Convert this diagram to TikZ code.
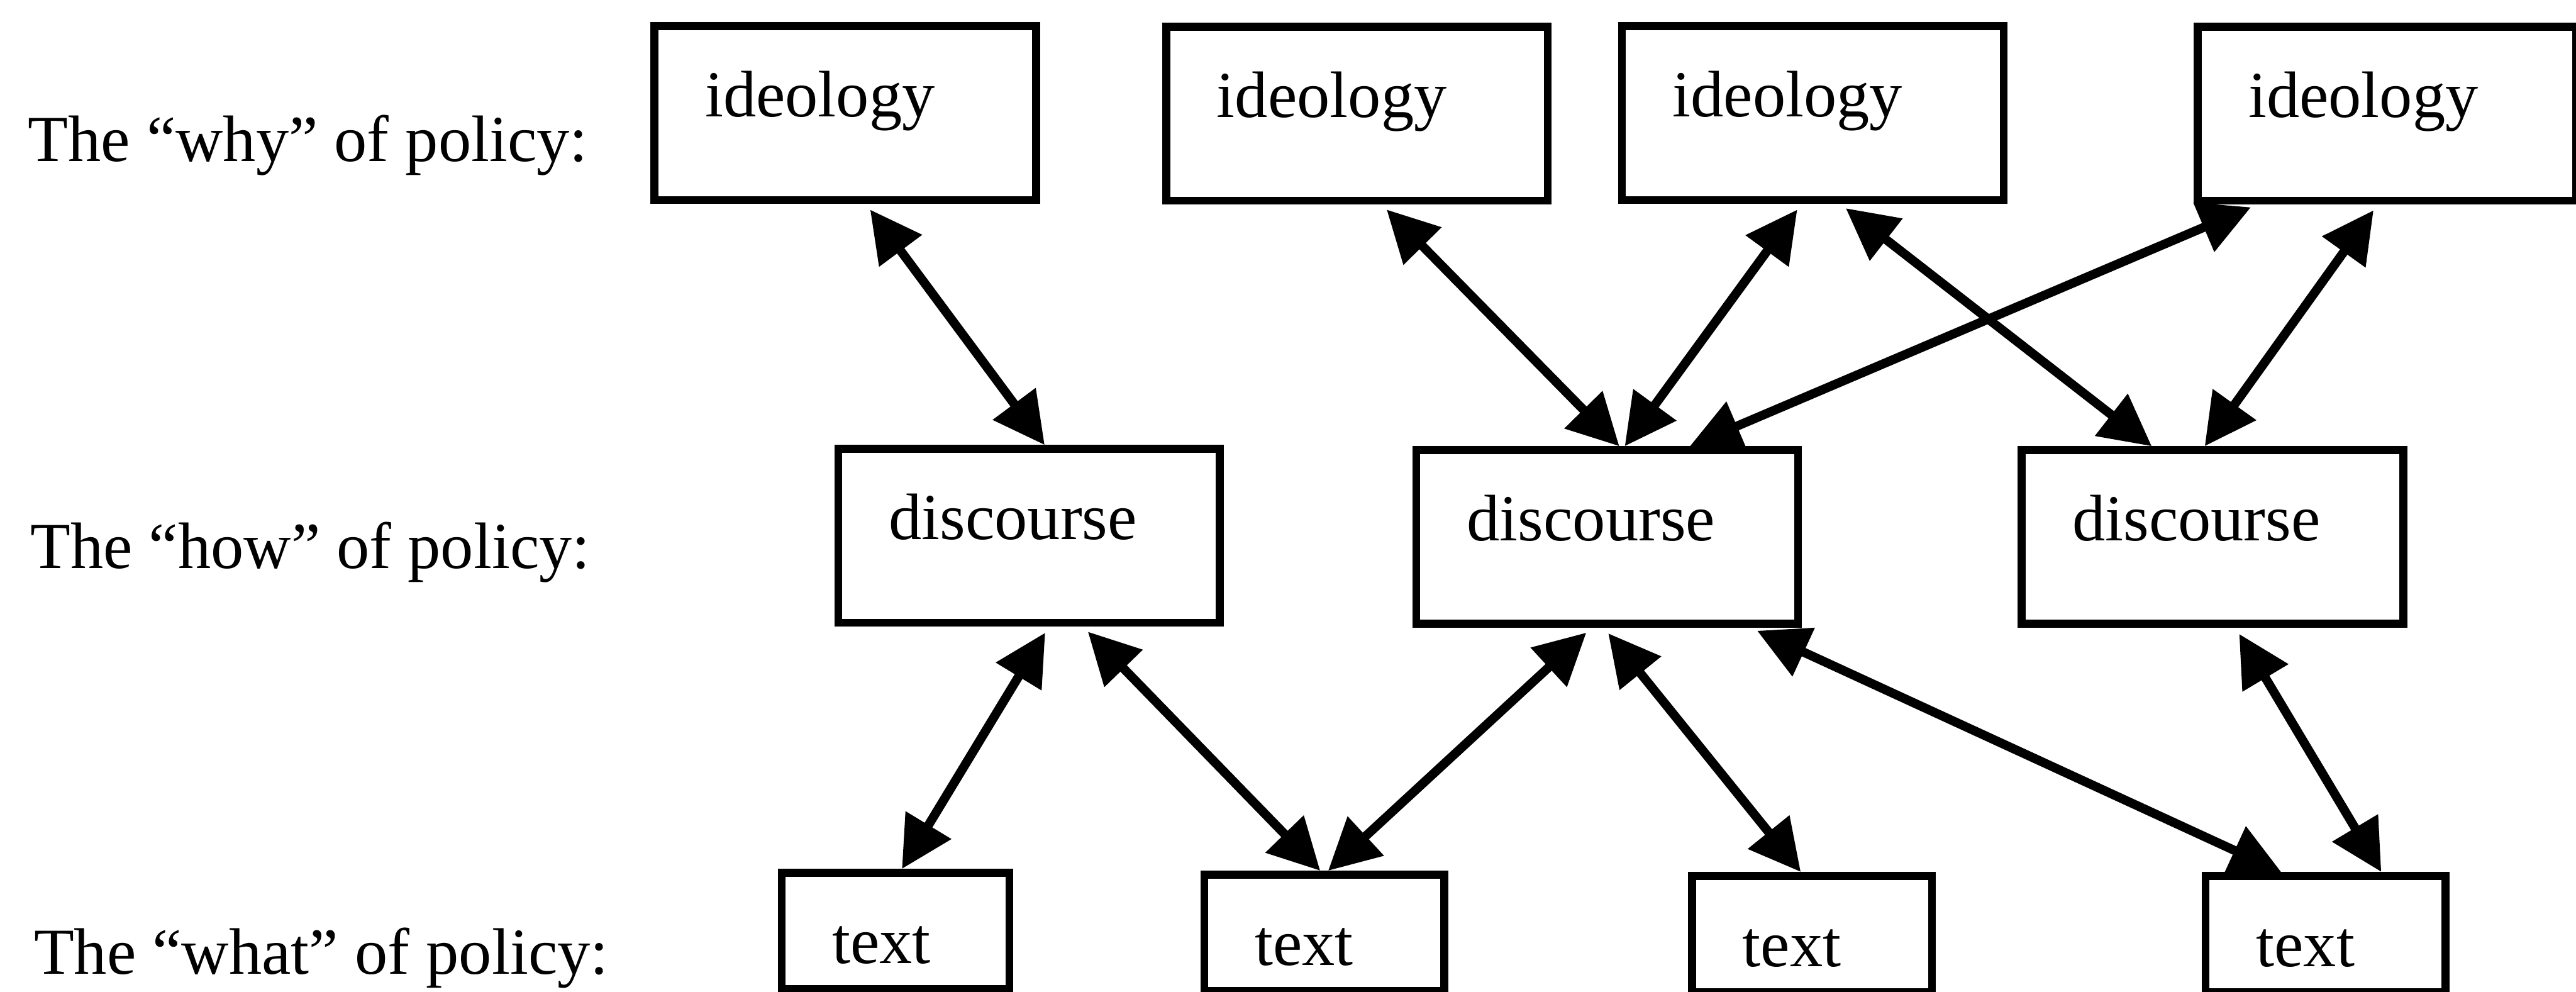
\documentclass[tikz,border=0pt]{standalone}
\usepackage{fontspec}
\setmainfont{Liberation Serif}
\usetikzlibrary{arrows.meta,calc}

\tikzset{
  box/.style={draw, line width=1.3mm, anchor=north west, align=left,
    inner xsep=0.84cm, inner ysep=0pt, text height=1.5cm},
  upper/.style={box, text width=4.65cm, text depth=1.38cm},
  lower/.style={box, text width=2.3cm, text depth=0.43cm},
  link/.style={line width=1.5mm,
    {Triangle[length=0.85cm,width=0.85cm]}-{Triangle[length=0.85cm,width=0.85cm]},
    shorten <=0.12cm},
}

\begin{document}
\begin{tikzpicture}[font=\fontsize{31}{36}\selectfont]
\useasboundingbox (0,0) rectangle (42.73,-16.45);

\node[anchor=base west] (why) at (0.34,-2.68) {The “why” of policy:};
\node[anchor=base west] (how) at (0.38,-9.43) {The “how” of policy:};
\node[anchor=base west] (what) at (0.44,-16.15) {The “what” of policy:};

\node[upper] (i1) at (10.79,-0.37) {ideology};
\node[upper] (i2) at (19.28,-0.38) {ideology};
\node[upper] (i3) at (26.84,-0.37) {ideology};
\node[upper, text width=4.6cm] (i4) at (36.39,-0.38) {ideology};

\node[upper] (d1) at (13.84,-7.38) {discourse};
\node[upper] (d2) at (23.43,-7.40) {discourse};
\node[upper] (d3) at (33.47,-7.40) {discourse};

\node[lower, text width=2.1cm] (t1) at (12.90,-14.41) {text};
\node[lower] (t2) at (19.91,-14.44) {text};
\node[lower] (t3) at (28.00,-14.46) {text};
\node[lower] (t4) at (36.52,-14.46) {text};

\draw[link] ($(i1.south west)!0.553!(i1.south east)$) -- ($(d1.north west)!0.540!(d1.north east)$);
\draw[link] ($(i2.south west)!0.563!(i2.south east)$) -- ($(d2.north west)!0.531!(d2.north east)$);
\draw[link] ($(i3.south west)!0.471!(i3.south east)$) -- ($(d2.north west)!0.545!(d2.north east)$);
\draw[link] ($(i3.south west)!0.570!(i3.south east)$) -- ($(d3.north west)!0.344!(d3.north east)$);
\draw[link] ($(i4.south west)!0.165!(i4.south east)$) -- ($(d2.north west)!0.712!(d2.north east)$);
\draw[link] ($(i4.south west)!0.476!(i4.south east)$) -- ($(d3.north west)!0.480!(d3.north east)$);

\draw[link] ($(d1.south west)!0.551!(d1.south east)$) -- ($(t1.north west)!0.527!(t1.north east)$);
\draw[link] ($(d1.south west)!0.638!(d1.south east)$) -- ($(t2.north west)!0.484!(t2.north east)$);
\draw[link] ($(d2.south west)!0.460!(d2.south east)$) -- ($(t2.north west)!0.516!(t2.north east)$);
\draw[link] ($(d2.south west)!0.491!(d2.south east)$) -- ($(t3.north west)!0.455!(t3.north east)$);
\draw[link] ($(d2.south west)!0.868!(d2.south east)$) -- ($(t4.north west)!0.321!(t4.north east)$);
\draw[link] ($(d3.south west)!0.559!(d3.south east)$) -- ($(t4.north west)!0.725!(t4.north east)$);
\end{tikzpicture}
\end{document}
